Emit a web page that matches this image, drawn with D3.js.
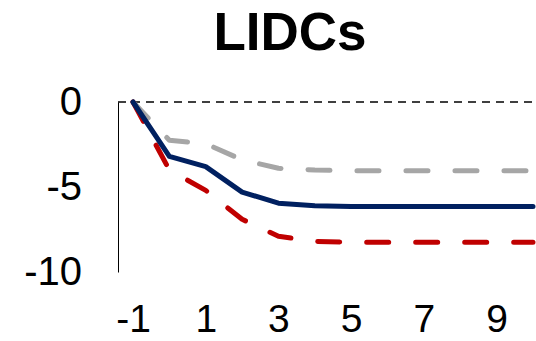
<!DOCTYPE html>
<html>
<head>
<meta charset="utf-8">
<script src="https://cdn.jsdelivr.net/npm/d3@7/dist/d3.min.js"></script>
<style>
  html, body { margin: 0; padding: 0; background: #fff; }
  svg { display: block; font-family: 'Liberation Sans', Arial, sans-serif; }
  .axis text { fill: #000; font-size: 40px; }
  .x.axis text { font-size: 39px; }
  .axis .domain { stroke: #000; stroke-width: 1; }
  .title { font-size: 53px; font-weight: bold; }
</style>
</head>
<body>
<svg id="chart"></svg>
<script>
'use strict';

/* Chart data */
var years = [-1, 0, 1, 2, 3, 4, 5, 6, 7, 8, 9, 10];
var baseline = [0, -3.2, -3.8, -5.3, -5.95, -6.1, -6.15, -6.15, -6.15, -6.15, -6.15, -6.15];
var upside = [0, -2.25, -2.45, -3.4, -3.9, -4.0, -4.05, -4.05, -4.05, -4.05, -4.05, -4.05];
var downside = [0, -4.0, -5.2, -6.9, -7.9, -8.2, -8.25, -8.25, -8.25, -8.25, -8.25, -8.25];
var xTicks = [-1, 1, 3, 5, 7, 9];
var yTicks = [0, -5, -10];

var width = 536;
var height = 341;

/* Plain hyphen for negatives, like the original */
var fmt = function(d) { return String(d); };

var svg = d3.select('#chart')
  .attr('width', width)
  .attr('height', height);

var x = d3.scaleLinear().domain([-1, 10]).range([133, 533]);
var y = d3.scaleLinear().domain([-10, 0]).range([272, 102]);

/* Title */
svg.append('text')
  .attr('class', 'title')
  .attr('x', 290)
  .attr('y', 50)
  .attr('text-anchor', 'middle')
  .text('LIDCs');

/* Zero line */
svg.append('line')
  .attr('x1', 118)
  .attr('x2', width)
  .attr('y1', y(0))
  .attr('y2', y(0))
  .attr('stroke', '#000')
  .attr('stroke-width', 1.5)
  .attr('stroke-dasharray', '8,6');

/* Axes */
var yAxis = d3.axisLeft(y)
  .tickValues(yTicks)
  .tickFormat(fmt)
  .tickSize(0)
  .tickSizeOuter(0)
  .tickPadding(36);

svg.append('g')
  .attr('class', 'y axis')
  .attr('transform', 'translate(118,0)')
  .call(yAxis);

var xAxis = d3.axisBottom(x)
  .tickValues(xTicks)
  .tickFormat(fmt)
  .tickSize(0);

svg.append('g')
  .attr('class', 'x axis')
  .attr('transform', 'translate(0,332)')
  .call(xAxis)
  .call(function(g) { g.select('.domain').remove(); })
  .selectAll('text')
  .attr('dy', 0)
  .attr('y', 0);

/* Series */
var series = [
  { values: upside, color: '#a6a6a6', dash: '22,27' },
  { values: downside, color: '#c00000', dash: '22,27' },
  { values: baseline, color: '#002060', dash: null }
];

var line = d3.line()
  .x(function(d, i) { return x(years[i]); })
  .y(function(d) { return y(d); });

svg.append('g')
  .selectAll('path')
  .data(series)
  .enter().append('path')
    .attr('d', function(s) { return line(s.values); })
    .attr('fill', 'none')
    .attr('stroke', function(s) { return s.color; })
    .attr('stroke-width', 5)
    .attr('stroke-linecap', 'round')
    .attr('stroke-linejoin', 'round')
    .attr('stroke-dasharray', function(s) { return s.dash; });
</script>
</body>
</html>
